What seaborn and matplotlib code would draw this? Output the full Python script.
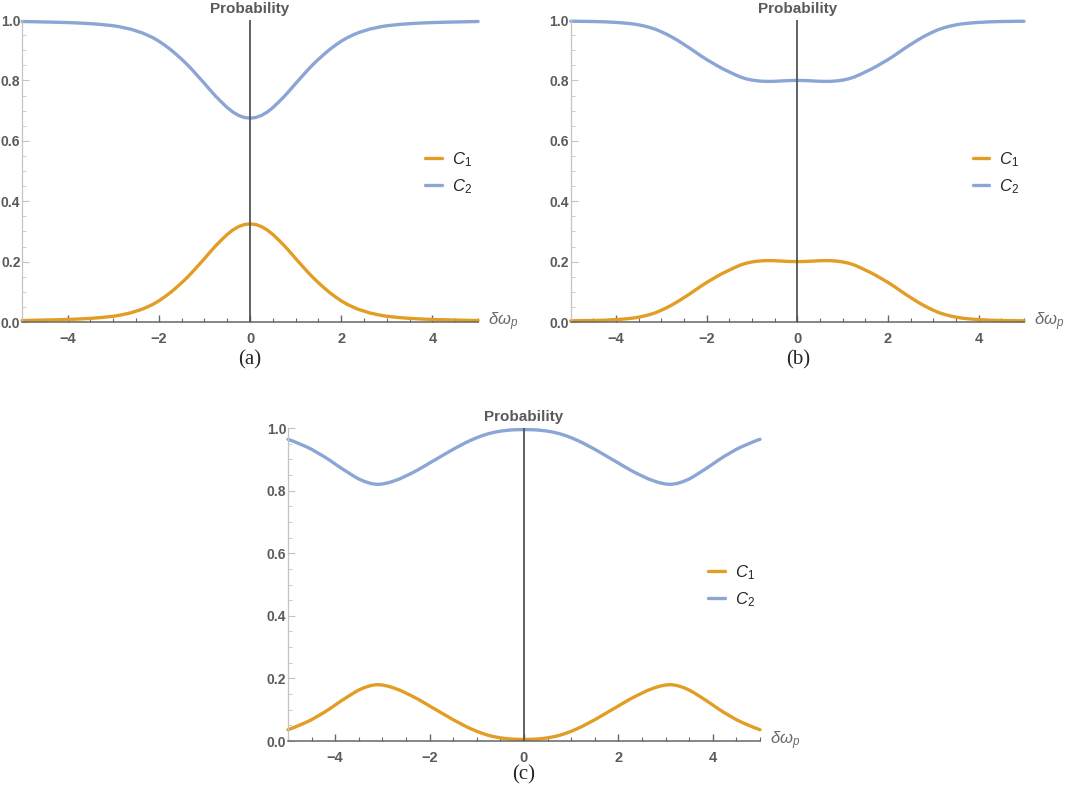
import numpy as np
import pandas as pd
import matplotlib
matplotlib.use('Agg')
import matplotlib.pyplot as plt
import seaborn as sns
from matplotlib.ticker import MultipleLocator, FormatStrFormatter

sns.set_style('white')
plt.rcParams['font.family'] = ['Liberation Sans', 'DejaVu Sans']
plt.rcParams['mathtext.fontset'] = 'custom'
plt.rcParams['mathtext.it'] = 'Liberation Sans:italic'
plt.rcParams['mathtext.rm'] = 'Liberation Sans'

# detuning grid (x axis)
delta = [-5.0, -4.875, -4.75, -4.625, -4.5, -4.375, -4.25, -4.125, -4.0, -3.875,
         -3.75, -3.625, -3.5, -3.375, -3.25, -3.125, -3.0, -2.875, -2.75, -2.625,
         -2.5, -2.375, -2.25, -2.125, -2.0, -1.875, -1.75, -1.625, -1.5, -1.375,
         -1.25, -1.125, -1.0, -0.875, -0.75, -0.625, -0.5, -0.375, -0.25, -0.125,
         0.0,
         0.125, 0.25, 0.375, 0.5, 0.625, 0.75, 0.875, 1.0, 1.125, 1.25,
         1.375, 1.5, 1.625, 1.75, 1.875, 2.0, 2.125, 2.25, 2.375, 2.5,
         2.625, 2.75, 2.875, 3.0, 3.125, 3.25, 3.375, 3.5, 3.625, 3.75,
         3.875, 4.0, 4.125, 4.25, 4.375, 4.5, 4.625, 4.75, 4.875, 5.0]

# panel (a)
a_c1 = [0.0050, 0.0053, 0.0057, 0.0061, 0.0065, 0.0069, 0.0074, 0.0079, 0.0085, 0.0092,
        0.010, 0.011, 0.012, 0.0135, 0.015, 0.017, 0.019, 0.022, 0.026, 0.030,
        0.036, 0.042, 0.050, 0.059, 0.070, 0.083, 0.097, 0.113, 0.130, 0.148,
        0.168, 0.189, 0.210, 0.232, 0.253, 0.272, 0.290, 0.305, 0.316, 0.3228,
        0.325,
        0.3228, 0.316, 0.305, 0.290, 0.272, 0.253, 0.232, 0.210, 0.189, 0.168,
        0.148, 0.130, 0.113, 0.097, 0.083, 0.070, 0.059, 0.050, 0.042, 0.036,
        0.030, 0.026, 0.022, 0.019, 0.017, 0.015, 0.0135, 0.012, 0.011, 0.010,
        0.0092, 0.0085, 0.0079, 0.0074, 0.0069, 0.0065, 0.0061, 0.0057, 0.0053, 0.0050]
a_c2 = [0.995, 0.9947, 0.9943, 0.9939, 0.9935, 0.9931, 0.9926, 0.9921, 0.9915, 0.9908,
        0.990, 0.989, 0.988, 0.9865, 0.985, 0.983, 0.981, 0.978, 0.974, 0.970,
        0.964, 0.958, 0.950, 0.941, 0.930, 0.917, 0.903, 0.887, 0.870, 0.852,
        0.832, 0.811, 0.790, 0.768, 0.747, 0.728, 0.710, 0.695, 0.684, 0.6772,
        0.675,
        0.6772, 0.684, 0.695, 0.710, 0.728, 0.747, 0.768, 0.790, 0.811, 0.832,
        0.852, 0.870, 0.887, 0.903, 0.917, 0.930, 0.941, 0.950, 0.958, 0.964,
        0.970, 0.974, 0.978, 0.981, 0.983, 0.985, 0.9865, 0.988, 0.989, 0.990,
        0.9908, 0.9915, 0.9921, 0.9926, 0.9931, 0.9935, 0.9939, 0.9943, 0.9947, 0.995]

# panel (b)
b_c1 = [0.004, 0.0042, 0.0045, 0.0047, 0.005, 0.0055, 0.006, 0.007, 0.008, 0.0093,
        0.011, 0.013, 0.016, 0.020, 0.025, 0.031, 0.039, 0.048, 0.058, 0.069,
        0.081, 0.093, 0.106, 0.119, 0.131, 0.142, 0.153, 0.163, 0.172, 0.181,
        0.189, 0.195, 0.199, 0.2015, 0.203, 0.2033, 0.203, 0.202, 0.201, 0.2003,
        0.200,
        0.2003, 0.201, 0.202, 0.203, 0.2033, 0.203, 0.2015, 0.199, 0.195, 0.189,
        0.181, 0.172, 0.163, 0.153, 0.142, 0.131, 0.119, 0.106, 0.093, 0.081,
        0.069, 0.058, 0.048, 0.039, 0.031, 0.025, 0.020, 0.016, 0.013, 0.011,
        0.0093, 0.008, 0.007, 0.006, 0.0055, 0.005, 0.0047, 0.0045, 0.0042, 0.004]
b_c2 = [0.996, 0.9958, 0.9955, 0.9953, 0.995, 0.9945, 0.994, 0.993, 0.992, 0.9907,
        0.989, 0.987, 0.984, 0.980, 0.975, 0.969, 0.961, 0.952, 0.942, 0.931,
        0.919, 0.907, 0.894, 0.881, 0.869, 0.858, 0.847, 0.837, 0.828, 0.819,
        0.811, 0.805, 0.801, 0.7985, 0.797, 0.7967, 0.797, 0.798, 0.799, 0.7997,
        0.800,
        0.7997, 0.799, 0.798, 0.797, 0.7967, 0.797, 0.7985, 0.801, 0.805, 0.811,
        0.819, 0.828, 0.837, 0.847, 0.858, 0.869, 0.881, 0.894, 0.907, 0.919,
        0.931, 0.942, 0.952, 0.961, 0.969, 0.975, 0.980, 0.984, 0.987, 0.989,
        0.9907, 0.992, 0.993, 0.994, 0.9945, 0.995, 0.9953, 0.9955, 0.9958, 0.996]

# panel (c)
c_c1 = [0.036, 0.043, 0.051, 0.059, 0.068, 0.079, 0.090, 0.102, 0.115, 0.128,
        0.140, 0.152, 0.163, 0.171, 0.177, 0.180, 0.179, 0.175, 0.169, 0.162,
        0.153, 0.144, 0.134, 0.123, 0.112, 0.101, 0.090, 0.079, 0.068, 0.058,
        0.048, 0.039, 0.031, 0.024, 0.018, 0.0135, 0.010, 0.0077, 0.006, 0.0053,
        0.005,
        0.0053, 0.006, 0.0077, 0.010, 0.0135, 0.018, 0.024, 0.031, 0.039, 0.048,
        0.058, 0.068, 0.079, 0.090, 0.101, 0.112, 0.123, 0.134, 0.144, 0.153,
        0.162, 0.169, 0.175, 0.179, 0.180, 0.177, 0.171, 0.163, 0.152, 0.140,
        0.128, 0.115, 0.102, 0.090, 0.079, 0.068, 0.059, 0.051, 0.043, 0.036]
c_c2 = [0.964, 0.957, 0.949, 0.941, 0.932, 0.921, 0.910, 0.898, 0.885, 0.872,
        0.860, 0.848, 0.837, 0.829, 0.823, 0.820, 0.821, 0.825, 0.831, 0.838,
        0.847, 0.856, 0.866, 0.877, 0.888, 0.899, 0.910, 0.921, 0.932, 0.942,
        0.952, 0.961, 0.969, 0.976, 0.982, 0.9865, 0.990, 0.9923, 0.994, 0.9947,
        0.995,
        0.9947, 0.994, 0.9923, 0.990, 0.9865, 0.982, 0.976, 0.969, 0.961, 0.952,
        0.942, 0.932, 0.921, 0.910, 0.899, 0.888, 0.877, 0.866, 0.856, 0.847,
        0.838, 0.831, 0.825, 0.821, 0.820, 0.823, 0.829, 0.837, 0.848, 0.860,
        0.872, 0.885, 0.898, 0.910, 0.921, 0.932, 0.941, 0.949, 0.957, 0.964]

ORANGE = '#E29D24'
BLUE = '#8BA6D4'
GRAY = '#5a5a5a'


def draw_panel(ax, c1, c2, leg_anchor):
    sns.lineplot(x=delta, y=c1, ax=ax, color=ORANGE, lw=2.4, label='$C_1$')
    sns.lineplot(x=delta, y=c2, ax=ax, color=BLUE, lw=2.4, label='$C_2$')
    ax.set_xlim(-5, 5)
    ax.set_ylim(0, 1)
    for s in ['top', 'right']:
        ax.spines[s].set_visible(False)
    ax.spines['left'].set_color('#c4c4c4')
    ax.spines['left'].set_linewidth(0.9)
    ax.spines['bottom'].set_color('#666666')
    ax.spines['bottom'].set_linewidth(1.1)
    ax.axvline(0, color='#555555', lw=1.3, zorder=5)

    ax.xaxis.set_major_locator(MultipleLocator(2))
    ax.xaxis.set_minor_locator(MultipleLocator(0.5))
    ax.yaxis.set_major_locator(MultipleLocator(0.2))
    ax.yaxis.set_minor_locator(MultipleLocator(0.05))
    ax.yaxis.set_major_formatter(FormatStrFormatter('%.1f'))
    ax.tick_params(axis='x', which='major', direction='in', length=5, width=1.0,
                   color='#666666', pad=7, labelsize=10.5, labelcolor=GRAY, bottom=True)
    ax.tick_params(axis='x', which='minor', direction='in', length=3, width=0.8,
                   color='#666666', bottom=True)
    ax.tick_params(axis='y', which='major', direction='in', length=5, width=0.8,
                   color='#c4c4c4', pad=1.2, labelsize=10, labelcolor=GRAY, left=True)
    ax.tick_params(axis='y', which='minor', direction='in', length=3, width=0.6,
                   color='#c4c4c4', left=True)
    for lab in ax.get_xticklabels() + ax.get_yticklabels():
        lab.set_fontweight('bold')
    ax.set_xlabel('')
    ax.set_ylabel('')

    ax.annotate('Probability', xy=(0, 1), xytext=(0, 3), textcoords='offset points',
                ha='center', va='bottom', fontsize=11, fontweight='bold', color=GRAY,
                annotation_clip=False)
    ax.annotate(r'$\delta\omega_p$', xy=(5, 0), xytext=(7, 0), textcoords='offset points',
                ha='left', va='center', fontsize=12, color='#6a6a6a', annotation_clip=False)

    ax.legend(frameon=False, loc='center left', bbox_to_anchor=leg_anchor,
              borderpad=0, borderaxespad=0, handlelength=1.0, handletextpad=0.6,
              labelspacing=0.5, fontsize=12)
    for line in ax.get_lines()[:2]:
        line.set_clip_on(False)
        line.set_solid_joinstyle('round')


fig = plt.figure(figsize=(10.65, 7.91), dpi=100)
ax_a = fig.add_axes([0.0207, 0.5929, 0.4282, 0.3818])
ax_b = fig.add_axes([0.5359, 0.5929, 0.4256, 0.3818])
ax_c = fig.add_axes([0.2704, 0.0632, 0.4432, 0.3957])

draw_panel(ax_a, a_c1, a_c2, (0.884, 0.493))
draw_panel(ax_b, b_c1, b_c2, (0.887, 0.493))
draw_panel(ax_c, c_c1, c_c2, (0.89, 0.495))

cap = dict(ha='center', va='center', fontsize=15, family=['Liberation Serif', 'DejaVu Serif'])
fig.text(250 / 1065, 1 - 360 / 791, '(a)', **cap)
fig.text(798 / 1065, 1 - 360 / 791, '(b)', **cap)
fig.text(524 / 1065, 1 - 775 / 791, '(c)', **cap)

fig.savefig('out.png', dpi=100)
